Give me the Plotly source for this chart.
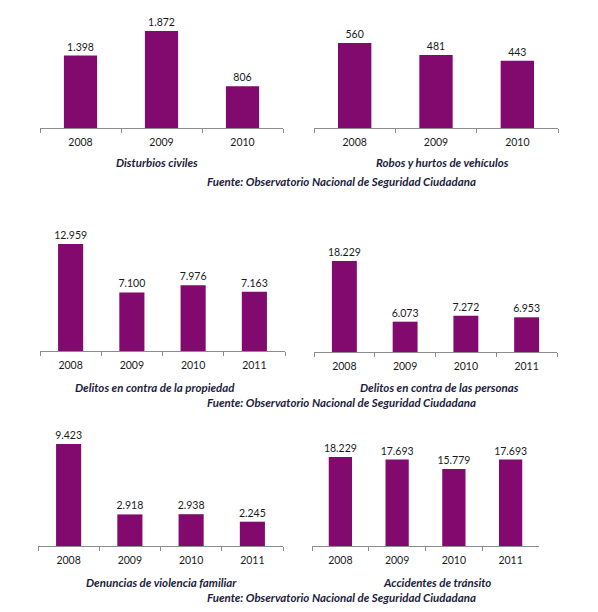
import plotly.graph_objects as go

# datos (Fuente: Observatorio Nacional de Seguridad Ciudadana)
anios_3 = ["2008", "2009", "2010"]
anios_4 = ["2008", "2009", "2010", "2011"]

disturbios = [1398, 1872, 806]
robos_vehiculos = [560, 481, 443]
delitos_propiedad = [12959, 7100, 7976, 7163]
delitos_personas = [18229, 6073, 7272, 6953]
violencia_familiar = [9423, 2918, 2938, 2245]
accidentes = [18229, 17693, 15779, 17693]

titulos = ["Disturbios civiles", "Robos y hurtos de vehículos",
           "Delitos en contra de la propiedad", "Delitos en contra de las personas",
           "Denuncias de violencia familiar", "Accidentes de tránsito"]
fuente = "Fuente: Observatorio Nacional de Seguridad Ciudadana"

W, H = 598, 612
morado = "#820A6E"
gris = "#8c8c8c"
fuente_txt = "Lato"

def fx(px):
    return px / W

def fy(px):
    return 1 - px / H

def miles(v):
    return f"{v:,}".replace(",", ".")

# (x categorias, valores, x0, x1, y_top, y_base, ymax, ancho barra, titulo x, titulo y)
paneles = [
    (anios_3, disturbios, 40, 283, 20, 128, 2084, 0.41, 157, 163),
    (anios_3, robos_vehiculos, 314, 558, 20, 128, 711, 0.41, 443, 163),
    (anios_4, delitos_propiedad, 40, 285, 235, 351, 14049, 0.41, 155, 387),
    (anios_4, delitos_personas, 314, 557, 235, 352, 23437, 0.41, 439, 387),
    (anios_4, violencia_familiar, 38, 283, 435, 546, 10255, 0.41, 161, 582),
    (anios_4, accidentes, 312, 539, 435, 546, 22735, 0.41, 437, 582),
]

fig = go.Figure()
anotaciones = []

for i, (cats, vals, x0, x1, yt, yb, ymax, ancho, tx, ty) in enumerate(paneles):
    n = "" if i == 0 else str(i + 1)
    fig.add_trace(go.Bar(
        x=cats, y=vals,
        xaxis="x" + n, yaxis="y" + n,
        marker=dict(color=morado, line=dict(width=0)),
        width=ancho,
        text=[miles(v) for v in vals],
        textposition="outside",
        constraintext="none",
        textfont=dict(family=fuente_txt, size=10.5, color="#1a1a1a"),
        cliponaxis=False,
        showlegend=False,
        hoverinfo="skip",
    ))
    fig.layout["xaxis" + n] = dict(
        domain=[fx(x0), fx(x1)], anchor="y" + n,
        type="category", showline=True, linecolor=gris, linewidth=1,
        ticks="outside", tickson="boundaries", ticklen=4, tickcolor=gris,
        ticklabelstandoff=4,
        tickfont=dict(family=fuente_txt, size=10.5, color="#1a1a1a"),
        showgrid=False, zeroline=False, fixedrange=True,
    )
    fig.layout["yaxis" + n] = dict(
        domain=[fy(yb), fy(yt)], anchor="x" + n,
        range=[0, ymax], visible=False, showgrid=False, fixedrange=True,
    )
    anotaciones.append(dict(
        text=titulos[i], x=fx(tx), y=fy(ty), xref="paper", yref="paper",
        xanchor="center", yanchor="middle", showarrow=False,
        font=dict(family=fuente_txt, size=11.5, color="#1c1c3c", weight="bold", style="italic"),
    ))

# lineas de fuente
for ty in [181, 402, 597]:
    anotaciones.append(dict(
        text=fuente, x=fx(341), y=fy(ty), xref="paper", yref="paper",
        xanchor="center", yanchor="middle", showarrow=False,
        font=dict(family=fuente_txt, size=11.5, color="#1c1c3c", weight="bold", style="italic"),
    ))

fig.update_layout(
    width=W, height=H,
    margin=dict(l=0, r=0, t=0, b=0),
    paper_bgcolor="white", plot_bgcolor="white",
    annotations=anotaciones,
    bargap=0.5,
)

# sin margen del body para que el grafico quede en 0,0
fig.write_html("out.html", config={"displayModeBar": False},
               post_script="document.body.style.margin='0';")
